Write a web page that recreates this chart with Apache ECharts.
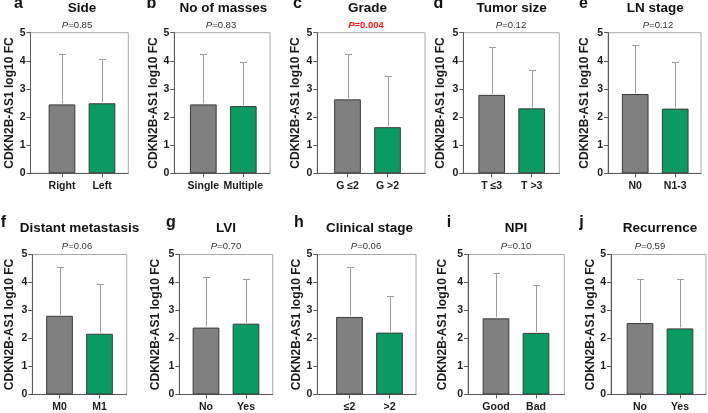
<!DOCTYPE html>
<html><head><meta charset="utf-8">
<script src="https://cdn.jsdelivr.net/npm/echarts@6/dist/echarts.min.js"></script>
<style>html,body{margin:0;padding:0;background:#fff}#c{width:708px;height:413px}</style>
</head><body><div id="c"></div>
<script>
// ---- data ----
const letters = ['a','b','c','d','e','f','g','h','i','j'];
const titles = ['Side','No of masses','Grade','Tumor size','LN stage','Distant metastasis','LVI','Clinical stage','NPI','Recurrence'];
const pValues = ['0.85','0.83','0.004','0.12','0.12','0.06','0.70','0.06','0.10','0.59'];
const significant = [false,false,true,false,false,false,false,false,false,false];
const groupLabels = [['Right','Left'],['Single','Multiple'],['G ≤2','G >2'],['T ≤3','T >3'],['N0','N1-3'],['M0','M1'],['No','Yes'],['≤2','>2'],['Good','Bad'],['No','Yes']];
const means = [[2.45,2.49],[2.45,2.39],[2.63,1.64],[2.79,2.31],[2.82,2.30],[2.81,2.17],[2.39,2.53],[2.77,2.21],[2.72,2.20],[2.55,2.36]];
const sds = [[1.79,1.59],[1.78,1.57],[1.63,1.83],[1.69,1.36],[1.75,1.66],[1.73,1.78],[1.79,1.58],[1.79,1.30],[1.63,1.71],[1.57,1.78]];
const yAxisName = 'CDKN2B-AS1 log10 FC';
const yMin = 0, yMax = 5, yStep = 1;

// ---- layout / style ----
const rowTop = [32.7, 254.5], rowBottom = [173.3, 395.3];
const axisX = [30.5,174.3,317.3,463.3,608, 32.3,179.3,317.3,468,611];
const frameRight = [128.3,270,425,559.3,701, 126.7,272.7,416,564.3,706];
const firstBarX = [62,203.3,347.5,491.7,635.2, 59.5,206,349.5,496,640];
const barStep = 40;
const nameX = [11.5,153,295.5,440.5,584, 8.7,154.7,297.5,442,590];
const letterX = [18.5,151.5,297.5,438.5,583.5, 3.5,171,299,449,581.5];
const pX = [77,221,366,511,658, 77,226,366,516,650];
const letterY = [3.9, 222.4], titleY = [8, 228.3], pY = [25, 246.7];
const barColors = ['#808080', '#0b9a62'];
const FONT = '"Liberation Sans", Arial, sans-serif';

const grids = [], xAxes = [], yAxes = [], series = [], graphics = [];
for (let i = 0; i < 10; i++) {
  const row = i < 5 ? 0 : 1;
  const top = rowTop[row], h = rowBottom[row] - rowTop[row];
  grids.push({left: axisX[i], width: frameRight[i] - axisX[i], top: top, height: h,
    show: true, borderColor: '#a8a8a8', borderWidth: 1, backgroundColor: 'transparent'});
  const xmin = 1 - (firstBarX[i] - axisX[i]) / barStep;
  const xmax = xmin + (frameRight[i] - axisX[i]) / barStep;
  const labs = groupLabels[i];
  xAxes.push({type: 'value', gridIndex: i, min: xmin, max: xmax,
    axisLine: {show: true, lineStyle: {color: '#5a5a5a', width: 1}},
    axisTick: {show: true, customValues: [1, 2], length: 4, lineStyle: {color: '#5a5a5a'}},
    axisLabel: {show: true, customValues: [1, 2], formatter: v => labs[Math.round(v) - 1] || '',
      fontFamily: FONT, fontWeight: 'bold', fontSize: 10.5, color: '#1a1a1a', margin: 7.5, hideOverlap: false},
    splitLine: {show: false}});
  yAxes.push({type: 'value', gridIndex: i, min: yMin, max: yMax, interval: yStep,
    axisLine: {show: true, lineStyle: {color: '#5a5a5a', width: 1}},
    axisTick: {show: true, length: 4, lineStyle: {color: '#5a5a5a'}},
    axisLabel: {fontFamily: FONT, fontWeight: 'bold', fontSize: 10.5, color: '#1a1a1a', margin: 5},
    splitLine: {show: false},
    name: yAxisName, nameLocation: 'middle', nameRotate: 90, nameGap: axisX[i] - nameX[i] - 6.5,
    nameTextStyle: {fontFamily: FONT, fontWeight: 'bold', fontSize: 12, color: '#1a1a1a'}});
  series.push({type: 'bar', xAxisIndex: i, yAxisIndex: i, barWidth: 26.7, silent: true,
    data: means[i].map((m, j) => ({value: [j + 1, m], itemStyle: {color: barColors[j]}})),
    itemStyle: {borderColor: '#3a3a3a', borderWidth: 1}});
  series.push({type: 'custom', xAxisIndex: i, yAxisIndex: i, silent: true, clip: false, z: 5,
    encode: {x: 0, y: 1},
    data: means[i].map((m, j) => [j + 1, m, sds[i][j]]),
    renderItem: function (params, api) {
      const x = api.value(0), m = api.value(1), s = api.value(2);
      const p0 = api.coord([x, m]), p1 = api.coord([x, m + s]);
      const cx = Math.round(p0[0]) + 0.5, yt = Math.round(p1[1]) + 0.5;
      return {type: 'group', children: [
        {type: 'line', shape: {x1: cx, y1: p0[1] - 1, x2: cx, y2: yt}, style: {stroke: '#9c9c9c', lineWidth: 1}},
        {type: 'line', shape: {x1: cx - 3.5, y1: yt, x2: cx + 3.5, y2: yt}, style: {stroke: '#9c9c9c', lineWidth: 1}}
      ]};
    }});
  graphics.push({type: 'text', x: letterX[i], y: letterY[row], style: {text: letters[i], font: 'bold 16px ' + FONT,
    fill: '#111', textAlign: 'center', textVerticalAlign: 'middle'}});
  const midX = firstBarX[i] + barStep / 2;
  graphics.push({type: 'text', x: midX, y: titleY[row], style: {text: titles[i], font: 'bold 13.5px ' + FONT,
    fill: '#111', textAlign: 'center', textVerticalAlign: 'middle'}});
  const sig = significant[i];
  graphics.push({type: 'text', x: pX[i], y: pY[row], style: {
    text: '{it|P}{n|=' + pValues[i] + '}', textAlign: 'center', textVerticalAlign: 'middle',
    rich: {
      it: {fontFamily: FONT, fontStyle: 'italic', fontWeight: sig ? 'bold' : 'normal', fontSize: 9.5, fill: sig ? '#ff1a1a' : '#333', color: sig ? '#ff1a1a' : '#333'},
      n: {fontFamily: FONT, fontWeight: sig ? 'bold' : 'normal', fontSize: 9.5, fill: sig ? '#ff1a1a' : '#333', color: sig ? '#ff1a1a' : '#333'}
    }}});
}

const chart = echarts.init(document.getElementById('c'), null, {renderer: 'canvas'});
chart.setOption({animation: false, backgroundColor: '#fff', grid: grids, xAxis: xAxes, yAxis: yAxes, series: series, graphic: graphics});
</script></body></html>
